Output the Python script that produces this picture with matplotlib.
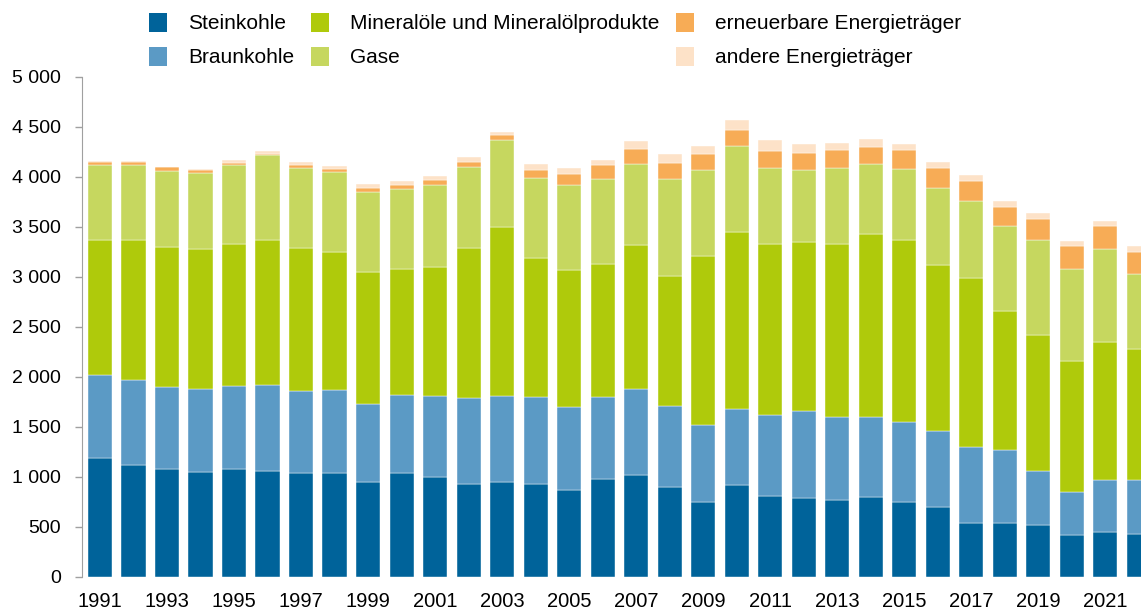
import numpy as np
import matplotlib.pyplot as plt
from matplotlib.patches import Patch

plt.rcParams['font.family'] = ['Liberation Sans', 'DejaVu Sans']

years = list(range(1991, 2023))

steinkohle = [1190, 1115, 1080, 1050, 1080, 1060, 1035, 1040, 945, 1035,
              995, 925, 950, 925, 865, 980, 1020, 900, 745, 915,
              810, 785, 770, 800, 745, 700, 535, 540, 520, 420, 450, 430]
braunkohle = [830, 850, 815, 825, 825, 855, 820, 825, 780, 785,
              815, 860, 855, 875, 835, 820, 855, 805, 770, 760,
              805, 870, 830, 795, 800, 760, 765, 725, 535, 425, 520, 540]
mineraloel = [1345, 1405, 1400, 1400, 1420, 1455, 1435, 1385, 1325, 1260,
              1285, 1500, 1695, 1390, 1370, 1325, 1440, 1305, 1695, 1775,
              1715, 1695, 1725, 1835, 1825, 1655, 1685, 1395, 1365, 1310, 1375, 1310]
gase = [750, 745, 765, 760, 795, 845, 800, 800, 795, 800,
        825, 810, 870, 800, 850, 855, 815, 970, 860, 855,
        760, 715, 765, 695, 710, 775, 775, 845, 945, 925, 935, 745]
erneuerbare = [35, 35, 35, 35, 15, 15, 25, 30, 40, 35,
               50, 50, 45, 80, 110, 140, 145, 155, 155, 165,
               165, 175, 175, 175, 190, 195, 195, 195, 210, 225, 225, 225]
andere = [5, 5, 5, 5, 30, 30, 30, 30, 45, 45,
          40, 50, 35, 60, 55, 45, 85, 95, 85, 100,
          115, 90, 75, 75, 60, 65, 65, 60, 65, 55, 55, 55]

series = [
    ('Steinkohle', steinkohle, '#00639A'),
    ('Braunkohle', braunkohle, '#5B9AC5'),
    ('Mineralöle und Mineralölprodukte', mineraloel, '#AFCA0B'),
    ('Gase', gase, '#C6D75F'),
    ('erneuerbare Energieträger', erneuerbare, '#F7AC56'),
    ('andere Energieträger', andere, '#FDE2C8'),
]

fig = plt.figure(figsize=(11.41, 6.12), dpi=100)
ax = fig.add_axes([0.0719, 0.0572, 0.9281, 0.8170])

x = np.arange(len(years))
bottom = np.zeros(len(years))
handles = []
for name, vals, color in series:
    vals = np.array(vals, dtype=float)
    ax.bar(x, vals, width=0.72, bottom=bottom, color=color,
           edgecolor='white', linewidth=0.3)
    bottom += vals
    handles.append(Patch(facecolor=color, label=name))

ax.set_xlim(-0.537, 31.07)
ax.set_ylim(0, 5000)

ax.set_yticks(np.arange(0, 5001, 500))
ax.set_yticklabels([f'{v:,}'.replace(',', ' ') for v in range(0, 5001, 500)])
ax.set_xticks(x[::2])
ax.set_xticklabels([str(y) for y in years[::2]])

ax.tick_params(axis='y', length=5, width=1, color='#A0A0A0', pad=10, labelsize=14)
ax.tick_params(axis='x', length=0, pad=11, labelsize=14.5)
for side in ['top', 'right', 'bottom']:
    ax.spines[side].set_visible(False)
ax.spines['left'].set_color('#A0A0A0')

fig.legend(handles=handles, ncol=3, loc='upper left',
           bbox_to_anchor=(149 / 1141, 1 - 13 / 612), frameon=False, fontsize=15,
           handlelength=0.87, handleheight=1.0, handletextpad=1.0,
           columnspacing=0.8, labelspacing=0.65, borderpad=0, borderaxespad=0)

fig.savefig('out.png', dpi=100)
